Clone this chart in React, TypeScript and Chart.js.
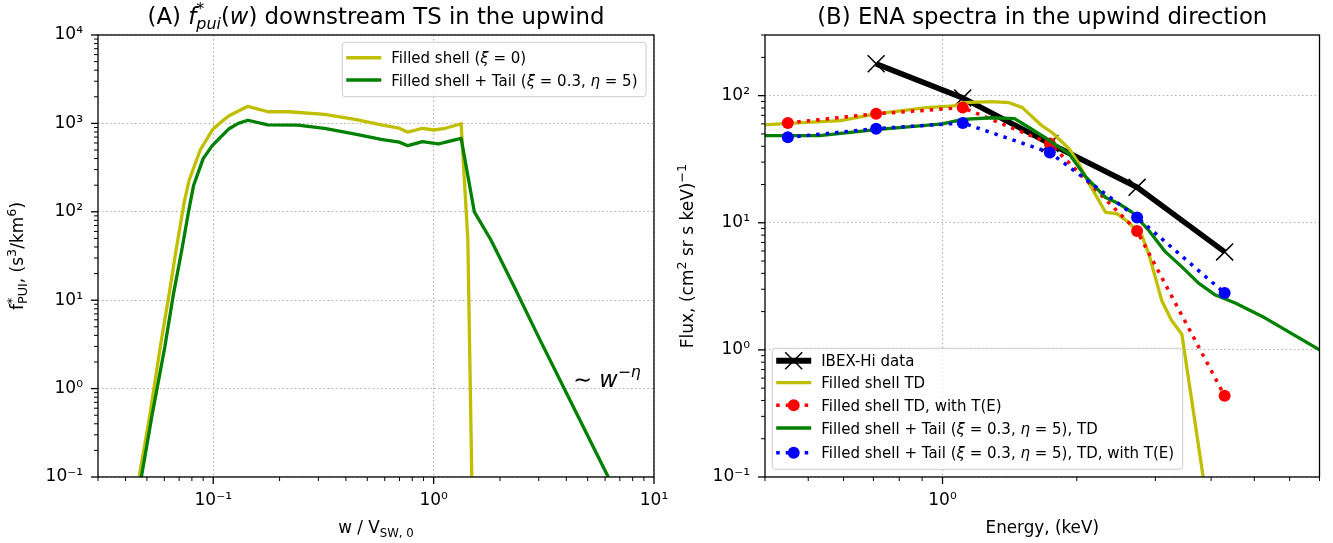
import React, { useEffect, useRef } from 'react';
import { Chart, registerables } from 'chart.js';

Chart.register(...registerables);

const FONT = '"DejaVu Sans", "Liberation Sans", sans-serif';

// ---------------- Panel A : f*_pui(w) downstream of the TS ----------------
const shellW = [0.0461, 0.0515, 0.0575, 0.063, 0.0679, 0.0739, 0.0778, 0.0873, 0.099, 0.1087, 0.118, 0.1436, 0.177, 0.22, 0.32, 0.447, 0.578, 0.698, 0.764, 0.89, 1.0, 1.13, 1.333, 1.43, 1.49];
const shellF = [0.1, 0.49, 2.96, 11.5, 37.5, 130, 229, 500, 841, 1040, 1220, 1560, 1355, 1355, 1268, 1104, 960, 883, 795, 881, 842, 881, 990, 48, 0.1];
const tailW = [0.0472, 0.0527, 0.0603, 0.0659, 0.072, 0.0775, 0.0815, 0.09, 0.099, 0.108, 0.118, 0.13, 0.1436, 0.177, 0.242, 0.32, 0.447, 0.578, 0.698, 0.764, 0.89, 1.05, 1.16, 1.333, 1.53, 1.82, 2.3, 3.0, 4.0, 6.2];
const tailF = [0.1, 0.49, 2.96, 11.5, 37, 105, 200, 400, 560, 700, 871, 1000, 1085, 960, 955, 881, 751, 660, 614, 560, 621, 585, 621, 678, 100, 48, 14.9, 3.8, 0.9, 0.1];

const aXTicks = [0.1, 1, 10];
const aYTicks = [0.1, 1, 10, 100, 1000, 10000];
const NOTE_W = 4.3;
const NOTE_F = 1.05;

// ---------------- Panel B : ENA spectra ----------------
const ibexE = [0.71, 1.11, 1.74, 2.73, 4.29];
const ibexFlux = [178, 96, 42, 19, 5.9];
const modelE = [0.45, 0.71, 1.11, 1.74, 2.73, 4.29];
const shellTEFlux = [61, 72, 80.5, 42, 8.6, 0.435];
const tailTEFlux = [47, 55, 61, 35.7, 11.0, 2.8];
const shellTDE = [0.39, 0.45, 0.59, 0.71, 0.92, 1.0, 1.06, 1.11, 1.29, 1.41, 1.51, 1.67, 1.76, 1.92, 2.02, 2.13, 2.32, 2.46, 2.61, 2.8, 2.9, 3.1, 3.26, 3.44, 3.84];
const shellTDFlux = [58.5, 60.5, 63.7, 72, 80.5, 82, 83, 88, 89.7, 88, 80.5, 58, 51.3, 38.4, 29.3, 20.4, 12.1, 11.8, 10.1, 7.9, 5.7, 2.45, 1.71, 1.33, 0.1];
const tailTDE = [0.39, 0.53, 0.71, 1.0, 1.11, 1.29, 1.45, 1.54, 1.71, 1.92, 2.1, 2.32, 2.48, 2.66, 2.9, 3.16, 3.44, 3.75, 4.09, 4.53, 5.29, 7.0];
const tailTDFlux = [48.5, 48.5, 54, 60, 65, 67, 66, 58, 46, 35, 22.7, 15.8, 14.2, 12.1, 8.7, 5.9, 4.5, 3.35, 2.7, 2.34, 1.78, 1.0];

const bXTicks = [1];
const bYTicks = [0.1, 1, 10, 100];

const YELLOW = '#bfbf00';
const GREEN = '#008000';
const RED = '#ff0000';
const BLUE = '#0000ff';
const BLACK = '#000000';

// ---------------- helpers ----------------
type Seg = { t: string; it?: boolean; s?: number; dy?: number; adv?: boolean };

const SUP: Record<string, string> = { '-': '⁻', '0': '⁰', '1': '¹', '2': '²', '3': '³', '4': '⁴', '5': '⁵', '6': '⁶', '7': '⁷', '8': '⁸', '9': '⁹' };
const powLabel = (e: number) => '10' + String(e).split('').map((c) => SUP[c]).join('');
const tickLabeller = (list: number[]) => (v: any) => {
  const val = Number(v);
  for (const t of list) if (Math.abs(val / t - 1) < 1e-6) return powLabel(Math.round(Math.log10(t)));
  return '';
};

function segFont(sg: Seg, size: number) {
  return `${sg.it ? 'italic ' : ''}${(size * (sg.s ?? 1)).toFixed(2)}px ${FONT}`;
}
function richWidth(ctx: CanvasRenderingContext2D, segs: Seg[], size: number) {
  let w = 0;
  for (const sg of segs) {
    ctx.font = segFont(sg, size);
    if (sg.adv !== false) w += ctx.measureText(sg.t).width;
  }
  return w;
}
function drawRich(ctx: CanvasRenderingContext2D, segs: Seg[], x: number, y: number, size: number, align: 'left' | 'center' | 'right' = 'left') {
  const w = richWidth(ctx, segs, size);
  let cx = align === 'center' ? x - w / 2 : align === 'right' ? x - w : x;
  ctx.textAlign = 'left';
  ctx.textBaseline = 'alphabetic';
  ctx.fillStyle = '#000';
  for (const sg of segs) {
    ctx.font = segFont(sg, size);
    ctx.fillText(sg.t, cx, y + (sg.dy ?? 0) * size);
    if (sg.adv !== false) cx += ctx.measureText(sg.t).width;
  }
}

type LegendItem = { label: Seg[]; color: string; width: number; dash?: number[]; marker?: 'circle' | 'x' };
type FrameCfg = {
  title: Seg[];
  xTitle: Seg[];
  yTitle: Seg[];
  yTitleX: number;
  legend: LegendItem[];
  legendPos: 'tr' | 'bl';
  rows: number[];
  boxH: number;
  note?: { segs: Seg[]; size: number; w: number; f: number };
};

function drawLegend(ctx: CanvasRenderingContext2D, cfg: FrameCfg, area: { left: number; right: number; top: number; bottom: number }) {
  const size = 15;
  let maxW = 0;
  for (const it of cfg.legend) maxW = Math.max(maxW, richWidth(ctx, it.label, size));
  const boxW = 4 + 35 + 10 + maxW + 8.5;
  const boxH = cfg.boxH;
  let bx: number, by: number;
  if (cfg.legendPos === 'tr') {
    bx = area.right - 8 - boxW;
    by = area.top + 7.3;
  } else {
    bx = area.left + 7.2;
    by = area.bottom - 7.7 - boxH;
  }
  ctx.save();
  ctx.beginPath();
  (ctx as any).roundRect(bx, by, boxW, boxH, 3);
  ctx.fillStyle = 'rgba(255,255,255,0.8)';
  ctx.fill();
  ctx.strokeStyle = '#cccccc';
  ctx.lineWidth = 1;
  ctx.stroke();
  cfg.legend.forEach((it, i) => {
    const cy = by + cfg.rows[i];
    const x0 = bx + 4;
    const x1 = x0 + 35;
    ctx.save();
    ctx.beginPath();
    ctx.strokeStyle = it.color;
    ctx.lineWidth = it.width;
    ctx.lineCap = 'butt';
    ctx.setLineDash(it.dash ?? []);
    ctx.moveTo(x0, cy);
    ctx.lineTo(x1, cy);
    ctx.stroke();
    ctx.setLineDash([]);
    const mx = (x0 + x1) / 2;
    if (it.marker === 'circle') {
      ctx.beginPath();
      ctx.fillStyle = it.color;
      ctx.arc(mx, cy, 6, 0, Math.PI * 2);
      ctx.fill();
    } else if (it.marker === 'x') {
      const d = 8.5;
      ctx.beginPath();
      ctx.strokeStyle = it.color;
      ctx.lineWidth = 1.5;
      ctx.moveTo(mx - d, cy - d);
      ctx.lineTo(mx + d, cy + d);
      ctx.moveTo(mx - d, cy + d);
      ctx.lineTo(mx + d, cy - d);
      ctx.stroke();
    }
    ctx.restore();
    drawRich(ctx, it.label, x1 + 10, cy + 5.5, size, 'left');
  });
  ctx.restore();
}

function drawLogTicks(ctx: CanvasRenderingContext2D, scale: any, horizontal: boolean, edge: number) {
  const min = scale.min as number;
  const max = scale.max as number;
  const e0 = Math.floor(Math.log10(min));
  const e1 = Math.ceil(Math.log10(max));
  for (let e = e0; e <= e1; e++) {
    for (let m = 1; m <= 9; m++) {
      const v = m * Math.pow(10, e);
      if (v < min * (1 - 1e-9) || v > max * (1 + 1e-9)) continue;
      const p = scale.getPixelForValue(v);
      const len = m === 1 ? 7 : 4;
      ctx.beginPath();
      ctx.lineWidth = m === 1 ? 1.3 : 1;
      if (horizontal) {
        ctx.moveTo(p, edge);
        ctx.lineTo(p, edge + len);
      } else {
        ctx.moveTo(edge, p);
        ctx.lineTo(edge - len, p);
      }
      ctx.stroke();
    }
  }
}

function framePlugin(cfg: FrameCfg) {
  return {
    id: 'frame',
    afterDatasetsDraw(chart: any) {
      const { ctx, chartArea: a } = chart;
      ctx.save();
      ctx.strokeStyle = '#000';
      drawLogTicks(ctx, chart.scales.x, true, a.bottom);
      drawLogTicks(ctx, chart.scales.y, false, a.left);
      ctx.lineWidth = 1.3;
      ctx.strokeRect(a.left, a.top, a.right - a.left, a.bottom - a.top);
      ctx.restore();
    },
    afterDraw(chart: any) {
      const { ctx, chartArea: a } = chart;
      ctx.save();
      const cx = (a.left + a.right) / 2;
      drawRich(ctx, cfg.title, cx, 24, 22.8, 'center');
      drawRich(ctx, cfg.xTitle, cx, 533, 16.8, 'center');
      ctx.save();
      ctx.translate(cfg.yTitleX, (a.top + a.bottom) / 2);
      ctx.rotate(-Math.PI / 2);
      drawRich(ctx, cfg.yTitle, 0, 0, 17, 'center');
      ctx.restore();
      if (cfg.note) {
        const nx = chart.scales.x.getPixelForValue(cfg.note.w);
        const ny = chart.scales.y.getPixelForValue(cfg.note.f);
        drawRich(ctx, cfg.note.segs, nx, ny, cfg.note.size, 'left');
      }
      drawLegend(ctx, cfg, a);
      ctx.restore();
    },
  };
}

const pts = (xs: number[], ys: number[]) => xs.map((x, i) => ({ x, y: ys[i] }));

function axis(min: number, max: number, labels: number[], horizontal: boolean, fit: number) {
  return {
    type: 'logarithmic' as const,
    min,
    max,
    afterFit: (s: any) => {
      if (horizontal) s.height = fit;
      else s.width = fit;
    },
    grid: {
      display: true,
      drawTicks: false,
      drawOnChartArea: true,
      lineWidth: 1.1,
      color: (c: any) => (c.tick && c.tick.major ? '#b0b0b0' : 'rgba(0,0,0,0)'),
    },
    border: { display: false, dash: [1.5, 2.6] },
    ticks: {
      autoSkip: false,
      maxRotation: 0,
      minRotation: 0,
      padding: horizontal ? 13 : 15,
      color: '#000',
      font: { family: FONT, size: 17 },
      callback: tickLabeller(labels),
    },
  };
}

const baseOptions = (pad: any) => ({
  responsive: false,
  animation: false as const,
  devicePixelRatio: 1,
  layout: { padding: pad },
  plugins: { legend: { display: false }, tooltip: { enabled: false }, title: { display: false } },
  elements: { line: { tension: 0, borderCapStyle: 'butt', borderJoinStyle: 'round', fill: false } },
});

const xi: Seg = { t: 'ξ', it: true };
const eta: Seg = { t: 'η', it: true };

function configA(): any {
  const cfg: FrameCfg = {
    title: [
      { t: '(A) ' },
      { t: 'f', it: true },
      { t: '*', s: 0.7, dy: -0.42, adv: false },
      { t: 'pui', it: true, s: 0.7, dy: 0.22 },
      { t: '(' },
      { t: 'w', it: true },
      { t: ') downstream TS in the upwind' },
    ],
    xTitle: [{ t: 'w / V' }, { t: 'SW, 0', s: 0.7, dy: 0.22 }],
    yTitle: [
      { t: 'f' },
      { t: '*', s: 0.75, dy: -0.42, adv: false },
      { t: 'PUI', s: 0.75, dy: 0.22 },
      { t: ', (s' },
      { t: '3', s: 0.75, dy: -0.42 },
      { t: '/km' },
      { t: '6', s: 0.75, dy: -0.42 },
      { t: ')' },
    ],
    yTitleX: 23,
    legend: [
      { label: [{ t: 'Filled shell (' }, xi, { t: ' = 0)' }], color: YELLOW, width: 3.5 },
      { label: [{ t: 'Filled shell + Tail (' }, xi, { t: ' = 0.3, ' }, eta, { t: ' = 5)' }], color: GREEN, width: 3.5 },
    ],
    legendPos: 'tr',
    rows: [15.4, 37.7],
    boxH: 54.4,
    note: {
      segs: [{ t: '∼ ' }, { t: 'w', it: true }, { t: '−', s: 0.7, dy: -0.42 }, { t: 'η', it: true, s: 0.7, dy: -0.42 }],
      size: 22.5,
      w: NOTE_W,
      f: NOTE_F,
    },
  };
  return {
    type: 'line',
    data: {
      datasets: [
        { label: 'Filled shell (ξ = 0)', data: pts(shellW, shellF), borderColor: YELLOW, borderWidth: 3.3, pointRadius: 0, clip: 0, order: 2 },
        { label: 'Filled shell + Tail (ξ = 0.3, η = 5)', data: pts(tailW, tailF), borderColor: GREEN, borderWidth: 3.3, pointRadius: 0, clip: 0, order: 1 },
      ],
    },
    options: {
      ...baseOptions({ left: 0, right: 36, top: 35, bottom: 0 }),
      scales: {
        x: axis(0.03, 10, aXTicks, true, 66),
        y: axis(0.1, 10000, aYTicks, false, 98),
      },
    },
    plugins: [framePlugin(cfg)],
  };
}

function configB(): any {
  const dotted = [3.5, 6];
  const cfg: FrameCfg = {
    title: [{ t: '(B) ENA spectra in the upwind direction' }],
    xTitle: [{ t: 'Energy, (keV)' }],
    yTitle: [{ t: 'Flux, (cm' }, { t: '2', s: 0.75, dy: -0.42 }, { t: ' sr s keV)' }, { t: '−1', s: 0.75, dy: -0.42 }],
    yTitleX: 27,
    legend: [
      { label: [{ t: 'IBEX-Hi data' }], color: BLACK, width: 6, marker: 'x' },
      { label: [{ t: 'Filled shell TD' }], color: YELLOW, width: 3.3 },
      { label: [{ t: 'Filled shell TD, with T(E)' }], color: RED, width: 3.5, dash: dotted, marker: 'circle' },
      { label: [{ t: 'Filled shell + Tail (' }, xi, { t: ' = 0.3, ' }, eta, { t: ' = 5), TD' }], color: GREEN, width: 3.3 },
      { label: [{ t: 'Filled shell + Tail (' }, xi, { t: ' = 0.3, ' }, eta, { t: ' = 5), TD, with T(E)' }], color: BLUE, width: 3.5, dash: dotted, marker: 'circle' },
    ],
    legendPos: 'bl',
    rows: [12.4, 34.4, 57, 79.7, 104.4],
    boxH: 121,
  };
  return {
    type: 'line',
    data: {
      datasets: [
        { label: 'IBEX-Hi data', data: pts(ibexE, ibexFlux), borderColor: BLACK, borderWidth: 5.5, pointStyle: 'crossRot', pointRadius: 12, pointBorderWidth: 1.5, pointBorderColor: BLACK, pointBackgroundColor: BLACK, clip: 0, order: 5 },
        { label: 'Filled shell TD', data: pts(shellTDE, shellTDFlux), borderColor: YELLOW, borderWidth: 3.3, pointRadius: 0, clip: 0, order: 4 },
        { label: 'Filled shell TD, with T(E)', data: pts(modelE, shellTEFlux), borderColor: RED, borderWidth: 3.5, borderDash: dotted, pointRadius: 6, pointBorderWidth: 0, pointBackgroundColor: RED, pointBorderColor: RED, clip: 0, order: 3 },
        { label: 'Filled shell + Tail (ξ = 0.3, η = 5), TD', data: pts(tailTDE, tailTDFlux), borderColor: GREEN, borderWidth: 3.3, pointRadius: 0, clip: 0, order: 2 },
        { label: 'Filled shell + Tail (ξ = 0.3, η = 5), TD, with T(E)', data: pts(modelE, tailTEFlux), borderColor: BLUE, borderWidth: 3.5, borderDash: dotted, pointRadius: 6, pointBorderWidth: 0, pointBackgroundColor: BLUE, pointBorderColor: BLUE, clip: 0, order: 1 },
      ],
    },
    options: {
      ...baseOptions({ left: 0, right: 11, top: 35, bottom: 0 }),
      scales: {
        x: axis(0.4, 7, bXTicks, true, 66),
        y: axis(0.1, 300, bYTicks, false, 99),
      },
    },
    plugins: [framePlugin(cfg)],
  };
}

export default function App() {
  const refA = useRef<HTMLCanvasElement>(null);
  const refB = useRef<HTMLCanvasElement>(null);
  useEffect(() => {
    const ca = new Chart(refA.current as HTMLCanvasElement, configA());
    const cb = new Chart(refB.current as HTMLCanvasElement, configB());
    return () => {
      ca.destroy();
      cb.destroy();
    };
  }, []);
  return (
    <div style={{ position: 'fixed', left: 0, top: 0, width: 1333, height: 543, background: '#ffffff', overflow: 'hidden' }}>
      <canvas ref={refA} width={690} height={543} style={{ position: 'absolute', left: 0, top: 0, width: 690, height: 543 }} />
      <canvas ref={refB} width={667} height={543} style={{ position: 'absolute', left: 666, top: 0, width: 667, height: 543 }} />
    </div>
  );
}
